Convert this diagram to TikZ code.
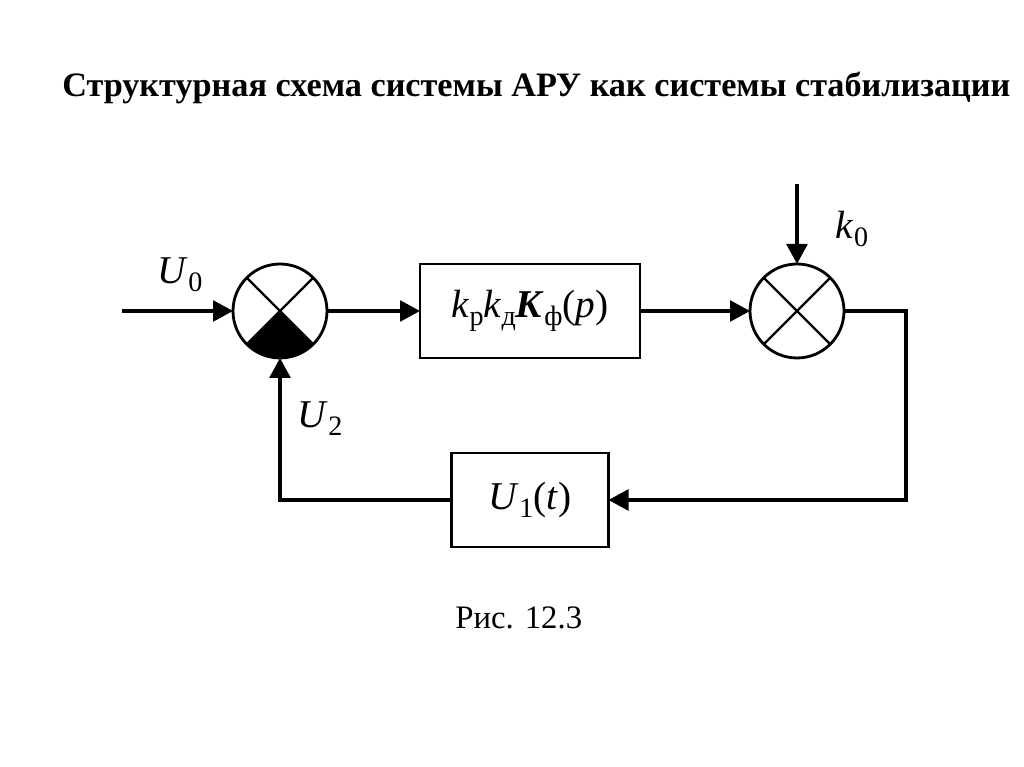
\documentclass[tikz,border=0pt]{standalone}
\usepackage{fontspec}
\setmainfont{Liberation Serif}
\usetikzlibrary{arrows.meta, positioning}
\newcommand{\lowidx}[1]{\raisebox{-0.45ex}{\fontsize{20}{20}\selectfont #1}}
\begin{document}
\begin{tikzpicture}[
    block/.style={draw, line width=2pt, minimum height=2.35cm, inner sep=0pt, outer sep=0pt, align=center,
                  font=\fontsize{28}{30}\selectfont},
    mixer/.style={draw, circle, line width=2pt, minimum size=2.35cm, inner sep=0pt, outer sep=0pt},
    arr/.style={-{Triangle[length=5mm, width=5.2mm]}, line width=2.4pt},
    sig/.style={inner sep=0pt, font=\fontsize{28}{30}\selectfont}
]
  \useasboundingbox (0,0) rectangle (25.6,19.175);
  \node[inner sep=0pt, font=\fontsize{24.35}{26}\selectfont\bfseries] (title) at (13.41,16.97)
    {Структурная схема системы АРУ как системы стабилизации};
  \node[mixer] (sum) at (7,11.4) {};
  \node[block, right=2.325cm of sum, minimum width=5.5cm] (gain)
    {\textit{k}\lowidx{р}\textit{k}\lowidx{д}\textbf{\textit{K}}\lowidx{ф}(\textit{p})};
  \node[mixer, right=2.75cm of gain] (mult) {};
  \node[block, below=2.375cm of gain, minimum width=3.925cm] (ref)
    {\textit{U}\lowidx{1}(\textit{t})};
  \node[inner sep=0pt, font=\fontsize{23.3}{25}\selectfont] (cap) at (12.97,3.725) {Рис. 12.3};
  \coordinate[left=2.775cm of sum] (in);
  \coordinate[above=2cm of mult] (top);
  \coordinate[right=1.55cm of mult] (turn);
  % signs
  \node[sig] (u0) at (4.5,12.3) {\textit{U}\lowidx{0}};
  \node[sig] (u2) at (8.0,8.72) {\textit{U}\lowidx{2}};
  \node[sig] (k0) at (21.3,13.45) {\textit{k}\lowidx{0}};
  % crosses
  \fill (sum.center) -- (sum.south west) arc[start angle=225, end angle=315, radius=1.175cm] -- cycle;
  \draw[line width=1.7pt] (sum.north west) -- (sum.south east);
  \draw[line width=1.7pt] (sum.north east) -- (sum.south west);
  \draw[line width=1.7pt] (mult.north west) -- (mult.south east);
  \draw[line width=1.7pt] (mult.north east) -- (mult.south west);
  % links
  \draw[arr] (in) -- (sum);
  \draw[arr] (sum) -- (gain);
  \draw[arr] (gain) -- (mult);
  \draw[arr] (top) -- (mult);
  \draw[arr] (mult.east) -- (turn) |- (ref.east);
  \draw[arr] (ref.west) -| (sum.south);
\end{tikzpicture}
\end{document}
